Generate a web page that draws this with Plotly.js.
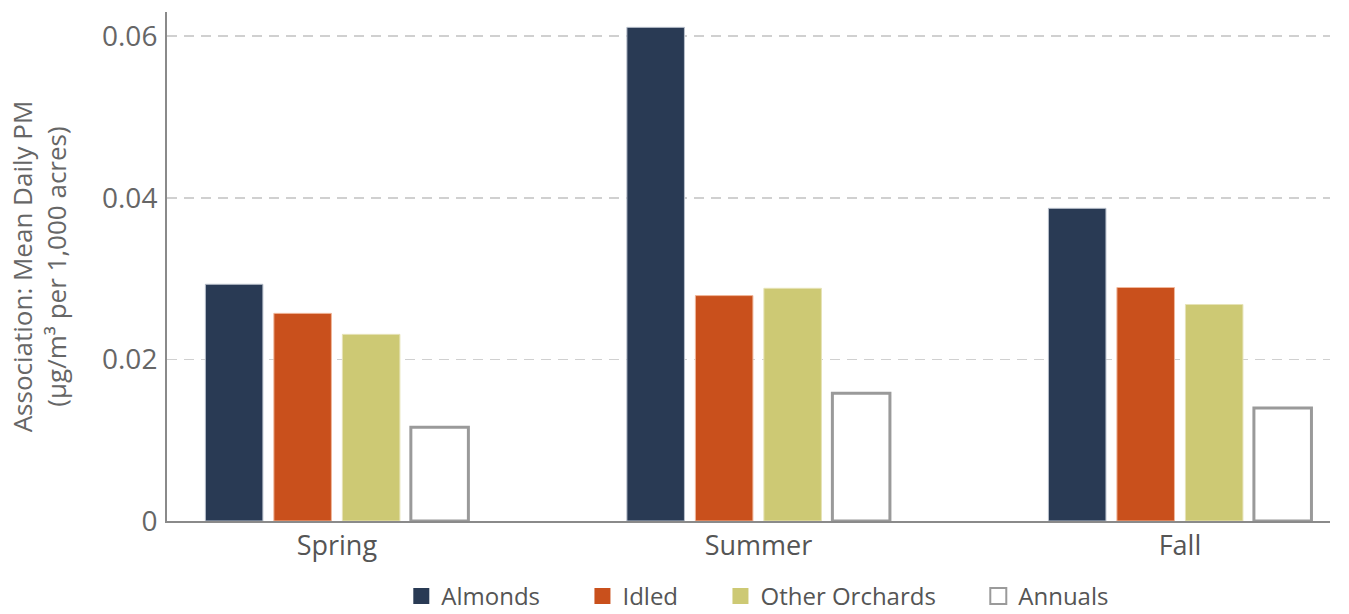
<!DOCTYPE html>
<html><head><meta charset="utf-8">
<script src="https://cdn.plot.ly/plotly-3.0.1.min.js"></script>
<style>html,body{margin:0;padding:0;background:#fff;}#chart{width:1349px;height:614px;}</style>
</head><body><div id="chart"></div>
<script>
var seasons = ["Spring", "Summer", "Fall"];
var almonds = [0.0293, 0.0611, 0.0387];
var idled = [0.0257, 0.0279, 0.0289];
var otherOrchards = [0.0231, 0.0288, 0.0268];
var annuals = [0.0116, 0.0158, 0.0140];
var seriesNames = ["Almonds", "Idled", "Other Orchards", "Annuals"];
var yTicks = [0, 0.02, 0.04, 0.06];
var yTickText = ["0", "0.02", "0.04", "0.06"];

var font = "'Open Sans', sans-serif";
var fills = ["#293a54", "#c9501c", "#cdc974", "#ffffff"];
var edges = ["#b9c0cc", "#f0b79b", "#e6e3b6", "#9a9a9a"];
var widths = [1, 1, 1, 3];
var values = [almonds, idled, otherOrchards, annuals];
var pad = "\u00a0\u00a0\u00a0\u00a0\u00a0\u00a0";

var data = [];
values.forEach(function (v, i) {
  data.push({type: "bar", name: seriesNames[i], x: seasons, y: v, showlegend: false,
    marker: {color: fills[i], line: {color: edges[i], width: widths[i]}}, hoverinfo: "y"});
});
// legend-only entries (larger swatches)
values.forEach(function (v, i) {
  data.push({type: "scatter", mode: "markers",
    name: seriesNames[i] + (i < 3 ? pad : ""), x: [null], y: [null],
    showlegend: true,
    marker: {symbol: "square", size: 16, color: fills[i],
      line: {color: i === 3 ? "#9a9a9a" : fills[i], width: i === 3 ? 2 : 0}}});
});

var layout = {
  width: 1349, height: 614,
  margin: {l: 167, r: 19, t: 12, b: 93, autoexpand: false},
  paper_bgcolor: "#fff", plot_bgcolor: "#fff",
  font: {family: font, color: "#666", size: 22},
  barmode: "group", bargap: 0.35, bargroupgap: 0.16,
  showlegend: true,
  legend: {orientation: "h", x: 0.508, xanchor: "center", y: -0.104, yanchor: "top",
    font: {size: 24, color: "#555"}, tracegroupgap: 0, itemwidth: 30},
  xaxis: {type: "category", range: [-0.403, 2.356], showgrid: false,
    showline: true, linecolor: "#8a8a8a", linewidth: 2, ticks: "",
    tickfont: {size: 27, color: "#555"}, fixedrange: true},
  yaxis: {range: [0, 0.063], tickvals: yTicks, ticktext: yTickText,
    showline: true, linecolor: "#8a8a8a", linewidth: 2, zeroline: false,
    showgrid: true, gridcolor: "#d0d0d0", gridwidth: 1.5, griddash: "10px,7px",
    ticks: "", ticklabelstandoff: 2,
    tickfont: {size: 28, color: "#666"},
    title: {text: "Association: Mean Daily PM<br>(µg/m³ per 1,000 acres)",
      font: {size: 26, color: "#666"}, standoff: 28}, fixedrange: true}
};
Plotly.newPlot("chart", data, layout, {displayModeBar: false, staticPlot: true});
</script></body></html>
